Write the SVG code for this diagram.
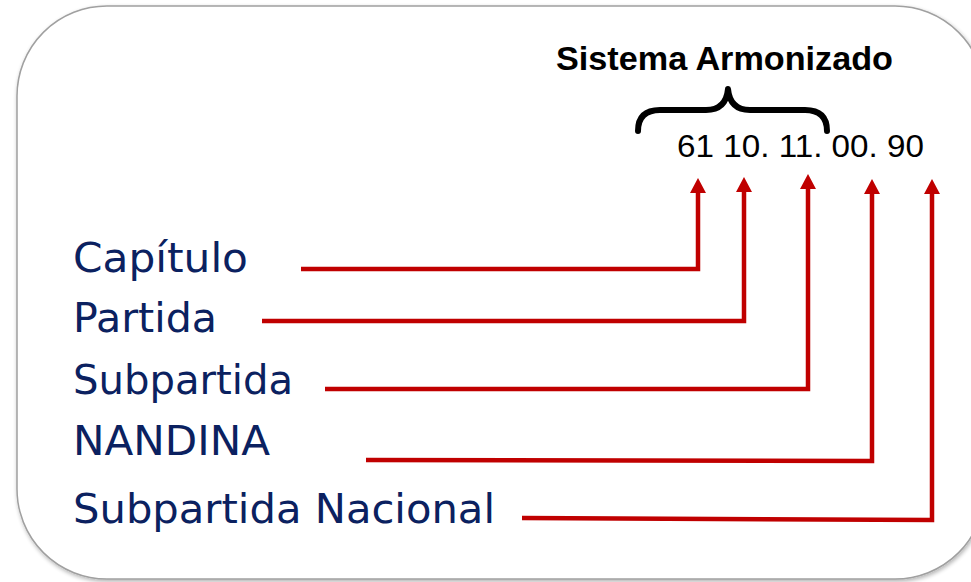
<svg xmlns="http://www.w3.org/2000/svg" width="971" height="582" viewBox="0 0 971 582">
  <defs>
    <style>
      .lbl { font-family: "DejaVu Sans", Verdana, sans-serif; font-size: 40px; fill: #0b2160; }
      .conn { fill: none; stroke: #c00000; stroke-width: 4.5; stroke-linejoin: miter; }
    </style>
    <marker id="arr" viewBox="0 0 15 16" refX="0" refY="8" markerWidth="15" markerHeight="16" markerUnits="userSpaceOnUse" orient="auto">
      <path d="M0,0 L15,8 L0,16 Z" fill="#c00000"/>
    </marker>
    <filter id="sh" x="-5%" y="-5%" width="110%" height="110%">
      <feGaussianBlur in="SourceAlpha" stdDeviation="2"/>
      <feOffset dx="1" dy="2" result="b"/>
      <feComponentTransfer><feFuncA type="linear" slope="0.3"/></feComponentTransfer>
      <feMerge><feMergeNode/><feMergeNode in="SourceGraphic"/></feMerge>
    </filter>
  </defs>
  <rect width="971" height="582" fill="#ffffff"/>
  <g id="frame">
    <rect x="17" y="6" width="968" height="573" rx="90" ry="90" fill="#ffffff" stroke="#a0a0a0" stroke-width="1.5" filter="url(#sh)"/>
  </g>
  <g id="header">
    <text x="556" y="70" font-family="Liberation Sans, Arial, sans-serif" font-weight="bold" font-size="33" fill="#000" textLength="337" lengthAdjust="spacingAndGlyphs">Sistema Armonizado</text>
    <path d="M638,131 Q638,110 660,110 L706,110 Q726,110 728,89 Q730,110 750,110 L805,110 Q827,110 827,131" fill="none" stroke="#000" stroke-width="6" stroke-linecap="round" stroke-linejoin="round"/>
    <text x="677" y="157" font-family="Liberation Sans, Arial, sans-serif" font-size="32" fill="#000" textLength="247" lengthAdjust="spacingAndGlyphs">61 10. 11. 00. 90</text>
  </g>
  <g id="capitulo"><text class="lbl" x="73" y="272" textLength="175" lengthAdjust="spacingAndGlyphs">Capítulo</text></g>
  <g id="partida"><text class="lbl" x="73" y="332" textLength="144" lengthAdjust="spacingAndGlyphs">Partida</text></g>
  <g id="subpartida"><text class="lbl" x="73" y="394" textLength="220" lengthAdjust="spacingAndGlyphs">Subpartida</text></g>
  <g id="nandina"><text class="lbl" x="73" y="455" textLength="197" lengthAdjust="spacingAndGlyphs">NANDINA</text></g>
  <g id="subpartida-nacional"><text class="lbl" x="73" y="523" textLength="422" lengthAdjust="spacingAndGlyphs">Subpartida Nacional</text></g>
  <g id="connectors">
    <polyline class="conn" points="301,269 698,269 698,193" marker-end="url(#arr)"/>
    <polyline class="conn" points="262,321 744,321 744,192" marker-end="url(#arr)"/>
    <polyline class="conn" points="325,389 808,389 808,189" marker-end="url(#arr)"/>
    <polyline class="conn" points="366,460 872,461 872,194" marker-end="url(#arr)"/>
    <polyline class="conn" points="522,518 932,520 932,194" marker-end="url(#arr)"/>
  </g>
</svg>
